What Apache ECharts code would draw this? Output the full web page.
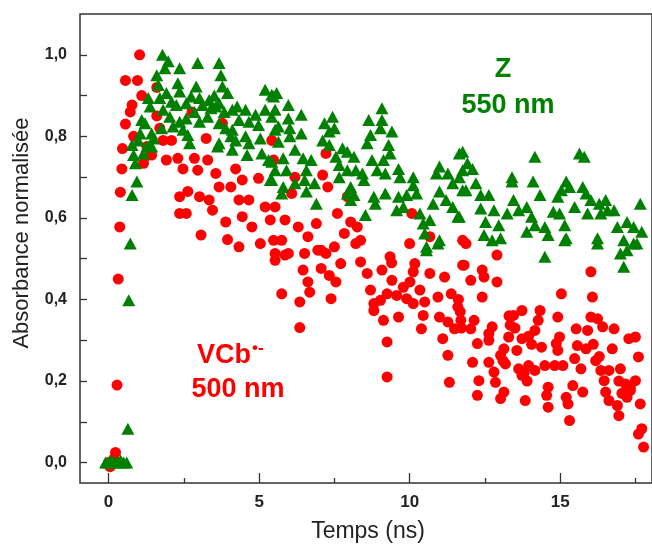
<!DOCTYPE html>
<html><head><meta charset="utf-8">
<script src="https://cdn.jsdelivr.net/npm/echarts@6/dist/echarts.min.js"></script>
<style>html,body{margin:0;padding:0;background:#fff}#c{width:652px;height:544px}</style>
</head><body><div id="c"></div>
<script>
// VCb•− 500 nm (red circles)
const redTime = [0.0,0.05,0.12,0.18,0.23,0.28,0.32,0.37,0.39,0.44,0.46,0.56,0.56,0.72,0.78,0.83,0.96,1.03,1.1,1.16,1.21,1.27,1.43,1.6,1.6,1.7,1.81,1.92,2.09,2.3,2.36,2.36,2.47,2.58,2.63,2.77,2.85,2.96,3.02,3.07,3.24,3.29,3.34,3.45,3.56,3.67,3.78,3.89,3.95,4.06,4.22,4.33,4.33,4.44,4.44,4.66,4.76,4.98,5.04,5.2,5.37,5.42,5.48,5.48,5.53,5.53,5.53,5.75,5.75,5.86,5.86,5.97,6.08,6.19,6.3,6.35,6.35,6.46,6.51,6.62,6.62,6.68,6.9,6.95,7.06,7.06,7.11,7.22,7.22,7.28,7.33,7.39,7.5,7.55,7.6,7.71,7.83,7.93,8.04,8.21,8.26,8.37,8.37,8.59,8.7,8.81,8.81,9.03,9.08,9.13,9.25,9.25,9.25,9.35,9.4,9.41,9.57,9.63,9.79,9.9,10.0,10.01,10.07,10.12,10.12,10.17,10.34,10.39,10.45,10.5,10.67,10.67,10.94,10.99,11.1,11.16,11.27,11.27,11.32,11.38,11.49,11.6,11.62,11.68,11.7,11.72,11.76,11.76,11.81,11.87,12.03,12.03,12.09,12.14,12.25,12.25,12.3,12.41,12.41,12.47,12.63,12.63,12.63,12.74,12.8,12.85,12.9,12.9,13.02,13.02,13.1,13.13,13.13,13.18,13.29,13.3,13.34,13.45,13.5,13.56,13.62,13.73,13.73,13.73,13.8,13.84,13.9,13.95,13.95,14.05,14.16,14.16,14.27,14.33,14.38,14.49,14.55,14.6,14.6,14.82,14.87,14.92,14.92,14.98,15.04,15.09,15.2,15.26,15.31,15.42,15.48,15.53,15.57,15.69,15.75,15.86,15.91,16.02,16.02,16.07,16.1,16.18,16.24,16.3,16.35,16.41,16.46,16.51,16.62,16.62,16.73,16.79,16.9,16.95,16.95,17.0,17.05,17.17,17.22,17.28,17.33,17.33,17.5,17.5,17.6,17.6,17.66,17.71,17.77];
const redValue = [0.0,-0.01,0.0,0.01,0.025,0.19,0.45,0.578,0.663,0.72,0.77,0.83,0.937,0.86,0.877,0.80,0.937,1.0,0.90,0.734,0.75,0.775,0.754,0.92,0.85,0.82,0.79,0.742,0.79,0.746,0.652,0.611,0.72,0.611,0.665,0.86,0.746,0.717,0.652,0.558,0.795,0.742,0.644,0.619,0.709,0.676,0.832,0.59,0.547,0.676,0.72,0.644,0.529,0.693,0.603,0.644,0.578,0.697,0.537,0.627,0.595,0.79,0.742,0.545,0.513,0.627,0.496,0.545,0.414,0.595,0.509,0.513,0.66,0.70,0.578,0.394,0.331,0.472,0.513,0.554,0.443,0.418,0.586,0.521,0.476,0.521,0.705,0.758,0.513,0.676,0.459,0.402,0.529,0.443,0.611,0.488,0.562,0.652,0.59,0.537,0.578,0.545,0.492,0.464,0.423,0.39,0.373,0.398,0.472,0.349,0.414,0.296,0.21,0.505,0.49,0.447,0.41,0.357,0.43,0.402,0.537,0.443,0.611,0.39,0.468,0.488,0.423,0.328,0.361,0.394,0.554,0.464,0.406,0.357,0.304,0.455,0.345,0.263,0.197,0.414,0.328,0.382,0.40,0.37,0.349,0.33,0.545,0.484,0.484,0.537,0.447,0.328,0.246,0.349,0.292,0.165,0.201,0.472,0.406,0.455,0.316,0.30,0.246,0.333,0.222,0.197,0.509,0.443,0.263,0.157,0.25,0.279,0.173,0.242,0.308,0.36,0.337,0.361,0.33,0.275,0.23,0.373,0.304,0.214,0.22,0.152,0.20,0.238,0.31,0.29,0.324,0.226,0.349,0.373,0.283,0.238,0.165,0.185,0.136,0.238,0.292,0.357,0.275,0.308,0.414,0.238,0.16,0.144,0.103,0.189,0.255,0.328,0.287,0.23,0.173,0.279,0.324,0.468,0.357,0.406,0.29,0.25,0.353,0.26,0.226,0.333,0.201,0.173,0.226,0.152,0.279,0.328,0.14,0.115,0.20,0.23,0.17,0.193,0.16,0.304,0.185,0.177,0.308,0.201,0.259,0.07,0.144,0.083,0.038];
// Z 550 nm (green triangles)
const greenTime = [-0.1,0.0,0.1,0.2,0.3,0.4,0.5,0.6,0.64,0.67,0.72,0.78,0.94,0.89,0.83,0.78,0.99,1.05,1.1,1.16,1.21,1.27,1.32,1.38,1.43,1.43,1.49,1.6,1.65,1.7,1.76,1.79,1.81,1.87,1.92,1.98,2.03,2.09,2.14,2.25,2.3,2.36,2.36,2.36,2.47,2.58,2.58,2.63,2.69,2.74,2.85,2.91,2.96,3.02,3.02,3.12,3.29,3.34,3.4,3.51,3.56,3.62,3.67,3.67,3.67,3.67,3.73,3.78,3.84,3.89,3.95,4.06,4.11,4.11,4.11,4.22,4.27,4.33,4.55,4.55,4.6,4.66,4.66,4.88,4.98,5.04,5.09,5.2,5.2,5.31,5.37,5.42,5.42,5.42,5.42,5.48,5.53,5.53,5.53,5.58,5.64,5.64,5.75,5.8,5.8,5.91,5.97,5.97,6.02,6.02,6.19,6.19,6.4,6.4,6.46,6.51,6.57,6.57,6.73,6.84,6.9,7.11,7.17,7.33,7.33,7.44,7.5,7.55,7.66,7.66,7.77,7.93,7.93,7.93,8.04,8.04,8.15,8.15,8.21,8.43,8.48,8.53,8.59,8.64,8.7,8.75,8.81,8.86,8.92,9.03,9.08,9.08,9.13,9.19,9.19,9.3,9.35,9.41,9.57,9.63,9.63,9.68,9.79,9.9,10.12,10.12,10.23,10.34,10.45,10.5,10.56,10.56,10.67,10.78,10.89,10.94,10.99,10.99,10.99,11.21,11.27,11.43,11.43,11.6,11.65,11.65,11.65,11.76,11.76,11.76,11.87,11.92,12.09,12.2,12.36,12.36,12.47,12.52,12.63,12.74,12.8,12.96,13.02,13.24,13.4,13.4,13.45,13.62,13.89,13.89,14.05,14.1,14.16,14.16,14.33,14.49,14.49,14.6,14.77,14.92,14.98,15.04,15.15,15.15,15.2,15.2,15.31,15.48,15.64,15.75,15.8,15.86,15.91,16.02,16.24,16.24,16.3,16.35,16.51,16.57,16.79,16.9,17.0,17.11,17.11,17.22,17.22,17.44,17.44,17.55,17.66,17.71];
const greenValue = [0.0,0.0,0.005,0.0,0.0,0.005,0.0,0.0,0.083,0.398,0.537,0.656,0.689,0.734,0.754,0.779,0.79,0.807,0.84,0.758,0.832,0.775,0.894,0.873,0.775,0.807,0.795,0.95,0.926,0.894,0.82,1.0,0.865,0.967,0.906,0.984,0.848,0.885,0.824,0.877,0.93,0.967,0.91,0.836,0.816,0.881,0.844,0.803,0.783,0.898,0.86,0.922,0.98,0.894,0.836,0.877,0.848,0.889,0.869,0.90,0.873,0.775,0.98,0.881,0.832,0.783,0.95,0.922,0.86,0.82,0.906,0.80,0.865,0.816,0.767,0.79,0.873,0.84,0.865,0.80,0.754,0.836,0.783,0.853,0.828,0.795,0.758,0.914,0.865,0.742,0.693,0.902,0.848,0.738,0.693,0.898,0.865,0.816,0.717,0.906,0.824,0.787,0.66,0.746,0.676,0.717,0.877,0.844,0.82,0.80,0.767,0.685,0.853,0.807,0.746,0.693,0.717,0.665,0.742,0.685,0.635,0.79,0.832,0.812,0.779,0.848,0.82,0.75,0.73,0.70,0.771,0.762,0.717,0.66,0.676,0.644,0.75,0.656,0.717,0.709,0.693,0.607,0.783,0.84,0.803,0.742,0.652,0.635,0.717,0.82,0.869,0.84,0.742,0.709,0.66,0.779,0.758,0.812,0.619,0.72,0.652,0.70,0.627,0.656,0.70,0.68,0.66,0.611,0.586,0.562,0.521,0.529,0.595,0.635,0.709,0.537,0.726,0.665,0.545,0.644,0.709,0.685,0.627,0.603,0.758,0.70,0.603,0.762,0.717,0.668,0.668,0.734,0.72,0.685,0.656,0.623,0.558,0.59,0.656,0.545,0.619,0.582,0.55,0.611,0.70,0.689,0.644,0.619,0.627,0.566,0.603,0.689,0.75,0.582,0.656,0.578,0.505,0.558,0.615,0.652,0.611,0.668,0.582,0.545,0.689,0.55,0.676,0.627,0.758,0.676,0.75,0.66,0.611,0.644,0.55,0.537,0.635,0.611,0.644,0.619,0.619,0.578,0.513,0.545,0.48,0.59,0.521,0.578,0.537,0.537,0.635,0.566];
// axis ticks
const xTickLabels = [0, 5, 10, 15];
const xMinorTicks = [2.5, 7.5, 12.5, 17.5];
const yTickLabels = [0, 0.2, 0.4, 0.6, 0.8, 1.0];
const yTicks = [0, 0.1, 0.2, 0.3, 0.4, 0.5, 0.6, 0.7, 0.8, 0.9, 1.0];

const FONT = '"Liberation Sans", Arial, sans-serif';
const RED = '#ff0000', GREEN = '#008000';

const chart = echarts.init(document.getElementById('c'), null, {renderer: 'canvas'});
const xMin = -0.95, xMax = 18.05;
chart.setOption({
  animation: false,
  backgroundColor: '#fff',
  grid: {left: 80, top: 14, width: 581.4, height: 469, show: true, borderColor: '#333', borderWidth: 1.5, backgroundColor: 'transparent', containLabel: false},
  xAxis: [
    {type: 'value', min: xMin, max: xMax, position: 'bottom',
     axisLine: {show: false, onZero: false}, splitLine: {show: false},
     axisTick: {show: true, inside: true, length: 10, customValues: xTickLabels, lineStyle: {color: '#333', width: 1.3}},
     axisLabel: {customValues: xTickLabels, fontFamily: FONT, fontWeight: 'bold', fontSize: 17, color: '#222', margin: 11}},
    {type: 'value', min: xMin, max: xMax, position: 'bottom',
     axisLine: {show: false, onZero: false}, splitLine: {show: false},
     axisTick: {show: true, inside: true, length: 5, customValues: xMinorTicks, lineStyle: {color: '#333', width: 1.3}},
     axisLabel: {show: false}}
  ],
  yAxis: {type: 'value', min: -0.05, max: 1.1,
    axisLine: {show: false, onZero: false}, splitLine: {show: false},
    axisTick: {show: true, inside: true, length: 7, customValues: yTicks, lineStyle: {color: '#333', width: 1.3}},
    axisLabel: {customValues: yTickLabels, formatter: v => v.toFixed(1).replace('.', ','), fontFamily: FONT, fontWeight: 'bold', fontSize: 16, color: '#222', margin: 13}},
  series: [
    {type: 'scatter', name: 'VCb 500 nm', xAxisIndex: 0, symbol: 'circle', symbolSize: 11,
     itemStyle: {color: RED, opacity: 1}, data: redTime.map((t, i) => [t, redValue[i]]), z: 2},
    {type: 'scatter', name: 'Z 550 nm', xAxisIndex: 0, symbol: 'triangle', symbolSize: [13, 12],
     itemStyle: {color: GREEN, opacity: 1}, data: greenTime.map((t, i) => [t, greenValue[i]]), z: 3}
  ],
  graphic: [
    {type: 'text', x: 22, y: 233, rotation: Math.PI / 2,
     style: {text: 'Absorbance normalisée', font: '22px ' + FONT, fill: '#222', textAlign: 'center', textVerticalAlign: 'middle'}},
    {type: 'text', x: 368, y: 532,
     style: {text: 'Temps (ns)', font: '23px ' + FONT, fill: '#222', textAlign: 'center', textVerticalAlign: 'middle'}},
    {type: 'text', x: 503, y: 70, z: 10,
     style: {text: 'Z', font: 'bold 27px ' + FONT, fill: GREEN, textAlign: 'center', textVerticalAlign: 'middle'}},
    {type: 'text', x: 508, y: 106, z: 10,
     style: {text: '550 nm', font: 'bold 27px ' + FONT, fill: GREEN, textAlign: 'center', textVerticalAlign: 'middle'}},
    {type: 'text', x: 197, y: 356, z: 10,
     style: {text: 'VCb', font: 'bold 27px ' + FONT, fill: RED, textAlign: 'left', textVerticalAlign: 'middle'}},
    {type: 'text', x: 252, y: 348, z: 10,
     style: {text: '•-', font: 'bold 17px ' + FONT, fill: RED, textAlign: 'left', textVerticalAlign: 'middle'}},
    {type: 'text', x: 238, y: 390, z: 10,
     style: {text: '500 nm', font: 'bold 27px ' + FONT, fill: RED, textAlign: 'center', textVerticalAlign: 'middle'}}
  ]
});
</script></body></html>
